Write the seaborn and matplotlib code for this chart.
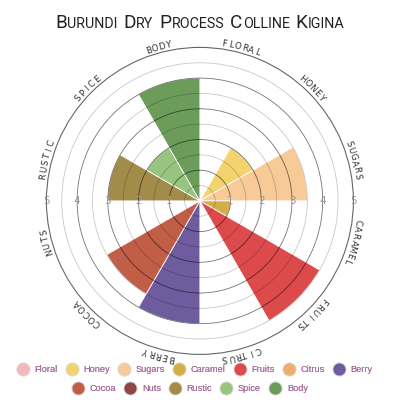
import numpy as np
import matplotlib
matplotlib.use("Agg")
import matplotlib.pyplot as plt
from matplotlib import font_manager
from matplotlib.lines import Line2D
import seaborn as sns

# -----------------------------
# DATA
# -----------------------------
flavors = ["Floral", "Honey", "Sugars", "Caramel", "Fruits", "Citrus", "Berry",
           "Cocoa", "Nuts", "Rustic", "Spice", "Body"]
scores = [0, 2, 3.5, 1, 4.5, 0, 4, 3.5, 0, 3, 2, 4]
flavor_colors = ["#f2b8bb", "#f3d36e", "#f8ca98", "#d4ae47", "#dd4a4b", "#eeae6f",
                 "#6e5c9f", "#c15e48", "#914646", "#a38b4a", "#97c47f", "#6c9c5a"]
ring_ticks = [1, 2, 3, 4, 5]
title = "Burundi Dry Process Colline Kigina"

# -----------------------------
# STYLE
# -----------------------------
sns.set_theme(style="white")
palette = sns.color_palette(flavor_colors)

installed = {f.name for f in font_manager.fontManager.ttflist}
title_font = next(f for f in ["Liberation Sans Narrow", "Roboto", "DejaVu Sans"] if f in installed)
legend_font = "Liberation Sans" if "Liberation Sans" in installed else "DejaVu Sans"

fig = plt.figure(figsize=(4, 4), dpi=100)
ax = fig.add_axes([0.116, 0.114, 0.7675, 0.7675], projection="polar")
ax.set_theta_zero_location("N")
ax.set_theta_direction(-1)

n = len(flavors)
step = 2 * np.pi / n
theta = np.arange(n) * step + step / 2

# wedges
ax.bar(theta, scores, width=step, color=palette, edgecolor="white",
       linewidth=0.6, zorder=1)

ax.set_ylim(0, 5)
ax.grid(False)
ax.set_xticks([])
ax.set_yticks([])
ax.spines["polar"].set_color("#666666")
ax.spines["polar"].set_linewidth(0.8)

# rings on top of the wedges
ring = np.linspace(0, 2 * np.pi, 400)
for r in np.arange(0.5, 5, 0.5):
    a = 0.55 if r % 1 == 0 else 0.22
    ax.plot(ring, np.full_like(ring, r), color="black", alpha=a, lw=0.6, zorder=2)

# scale numbers on the horizontal axis
for k in ring_ticks:
    for ang in (np.pi / 2, 3 * np.pi / 2):
        ax.text(ang, k, str(k), ha="center", va="center", fontsize=7.5,
                color="#999999", zorder=3)

# curved category names
r_lab = 5.18
pitch = np.deg2rad(2.45)
for i, name in enumerate(flavors):
    letters = name.upper()
    for j, ch in enumerate(letters):
        a = theta[i] + (j - (len(letters) - 1) / 2) * pitch
        ax.text(a, r_lab, ch, rotation=-np.rad2deg(a), rotation_mode="anchor",
                ha="center", va="center", fontsize=6.3, color="#333333")

# -----------------------------
# LEGEND (two centred rows)
# -----------------------------
def make_handles(names):
    return [Line2D([], [], linestyle="none", marker="o", markersize=9.4,
                   markerfacecolor=palette[flavors.index(nm)],
                   markeredgecolor="#dddddd", markeredgewidth=0.6)
            for nm in names]

rows = [(flavors[:7], 0.486, 0.0765), (flavors[7:], 0.474, 0.029)]
for names, xpos, ypos in rows:
    leg = fig.legend(handles=make_handles(names), labels=names, loc="center",
                     bbox_to_anchor=(xpos, ypos), ncol=len(names), frameon=False,
                     prop={"family": legend_font, "size": 6.6}, labelcolor="#a66f9e",
                     handlelength=1.42, handletextpad=0.55, columnspacing=0.85,
                     borderpad=0, borderaxespad=0)
    fig.add_artist(leg)

# -----------------------------
# TITLE (fake small caps)
# -----------------------------
renderer = fig.canvas.get_renderer()
W = fig.bbox.width
y_base = 1 - 28 / 400
x = 0.0
pieces = []
for k, word in enumerate(title.split()):
    if k:
        x += 6 / W
    for chunk, size in [(word[0], 13.7), (word[1:].upper(), 10.3)]:
        t = fig.text(x, y_base, chunk, fontsize=size, family=title_font,
                     ha="left", va="baseline", color="#222222")
        x += t.get_window_extent(renderer).width / W
        pieces.append(t)
shift = 0.5 - x / 2
for t in pieces:
    px, py = t.get_position()
    t.set_position((px + shift, py))

fig.savefig("out.png", dpi=100)
